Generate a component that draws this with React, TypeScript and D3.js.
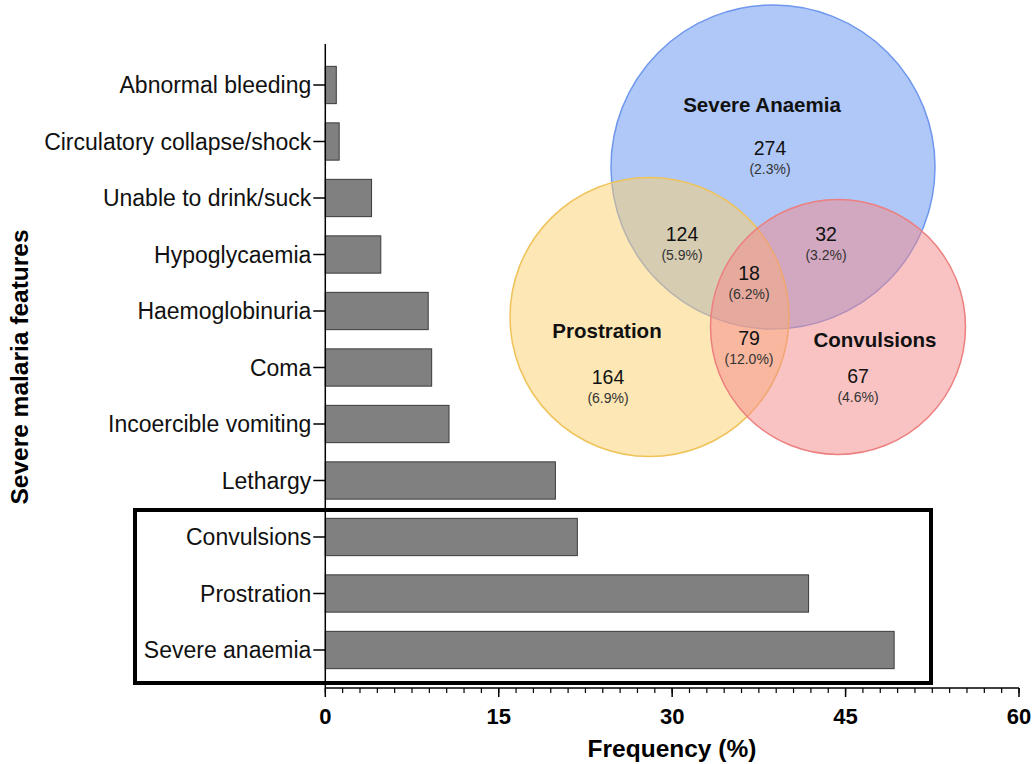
import React from "react";
import * as d3 from "d3";

const categories = [
  "Abnormal bleeding",
  "Circulatory collapse/shock",
  "Unable to drink/suck",
  "Hypoglycaemia",
  "Haemoglobinuria",
  "Coma",
  "Incoercible vomiting",
  "Lethargy",
  "Convulsions",
  "Prostration",
  "Severe anaemia",
];
const frequencies = [0.95, 1.2, 4.0, 4.8, 8.9, 9.2, 10.7, 19.9, 21.8, 41.8, 49.2];
const xTicks = [0, 15, 30, 45, 60];

const vennSets = [
  { name: "Severe Anaemia", fill: "rgb(97,145,241)", stroke: "#6f97ee" },
  { name: "Prostration", fill: "rgb(251,207,107)", stroke: "#efc35a" },
  { name: "Convulsions", fill: "rgb(243,135,135)", stroke: "#ec7f7f" },
];
const vennCounts = ["274", "164", "67", "124", "32", "79", "18"];
const vennPercents = ["(2.3%)", "(6.9%)", "(4.6%)", "(5.9%)", "(3.2%)", "(12.0%)", "(6.2%)"];

export default function App() {
  const W = 1033, H = 764;
  const x = d3.scaleLinear().domain([0, 60]).range([325.3, 1019]);
  const y = d3
    .scaleBand<string>()
    .domain(categories)
    .range([56.75, 678.25])
    .paddingInner(0.34)
    .paddingOuter(0.17);
  const axisY = 688;
  const minorTicks = d3.range(0, 60.01, 1.5);
  const font = "Liberation Sans, Arial, Helvetica, sans-serif";

  // Venn geometry (pixel layout)
  const circles = [
    { cx: 773, cy: 167, r: 162 },
    { cx: 649.5, cy: 317, r: 139.5 },
    { cx: 838, cy: 327, r: 127.5 },
  ];
  const titlePos = [
    [762, 105],
    [607, 331],
    [875, 340],
  ];
  const regionPos = [
    [770, 148],
    [608, 377],
    [858, 376],
    [682, 234],
    [826, 234],
    [749, 338],
    [749, 273],
  ];

  return (
    <svg width={W} height={H} style={{ display: "block", position: "absolute", left: 0, top: 0, background: "#fff" }} fontFamily={font}>
      {/* bars */}
      {categories.map((c, i) => (
        <rect
          key={c}
          x={x(0)}
          y={y(c)!}
          width={x(frequencies[i]) - x(0)}
          height={y.bandwidth()}
          fill="#808080"
          stroke="#3a3a3a"
          strokeWidth={1}
        />
      ))}
      {/* y axis */}
      <line x1={x(0)} x2={x(0)} y1={44} y2={axisY} stroke="#000" strokeWidth={1.5} />
      {categories.map((c) => {
        const cy = y(c)! + y.bandwidth() / 2;
        return (
          <g key={"t" + c}>
            <line x1={x(0) - 12} x2={x(0)} y1={cy} y2={cy} stroke="#000" strokeWidth={1.5} />
            <text x={x(0) - 14} y={cy} dy="0.35em" textAnchor="end" fontSize={23} fill="#111">
              {c}
            </text>
          </g>
        );
      })}
      {/* x axis */}
      <line x1={x(0)} x2={x(60)} y1={axisY} y2={axisY} stroke="#000" strokeWidth={1.5} />
      {minorTicks.map((t) => (
        <line key={"m" + t} x1={x(t)} x2={x(t)} y1={axisY} y2={axisY + 5} stroke="#000" strokeWidth={1.2} />
      ))}
      {xTicks.map((t) => (
        <g key={"x" + t}>
          <line x1={x(t)} x2={x(t)} y1={axisY} y2={axisY + 9} stroke="#000" strokeWidth={1.5} />
          <text x={x(t)} y={724} textAnchor="middle" fontSize={22} fontWeight="bold" fill="#000">
            {t}
          </text>
        </g>
      ))}
      <text x={672} y={757} textAnchor="middle" fontSize={24.5} fontWeight="bold">
        Frequency (%)
      </text>
      <text transform="translate(28,367) rotate(-90)" textAnchor="middle" fontSize={24.5} fontWeight="bold">
        Severe malaria features
      </text>
      {/* highlight box */}
      <rect x={135} y={510} width={796} height={173} fill="none" stroke="#000" strokeWidth={4} />

      {/* Venn diagram */}
      {circles.map((c, i) => (
        <circle key={"c" + i} cx={c.cx} cy={c.cy} r={c.r} fill={vennSets[i].fill} fillOpacity={0.5} stroke={vennSets[i].stroke} strokeWidth={1.5} />
      ))}
      {vennSets.map((s, i) => (
        <text key={"vt" + i} x={titlePos[i][0]} y={titlePos[i][1]} dy="0.35em" textAnchor="middle" fontSize={20.5} fontWeight="bold" fill="#111">
          {s.name}
        </text>
      ))}
      {vennCounts.map((v, i) => (
        <g key={"vc" + i}>
          <text x={regionPos[i][0]} y={regionPos[i][1]} dy="0.35em" textAnchor="middle" fontSize={19.5} fill="#111">
            {v}
          </text>
          <text x={regionPos[i][0]} y={regionPos[i][1] + 21} dy="0.35em" textAnchor="middle" fontSize={14} fill="#333">
            {vennPercents[i]}
          </text>
        </g>
      ))}
    </svg>
  );
}
